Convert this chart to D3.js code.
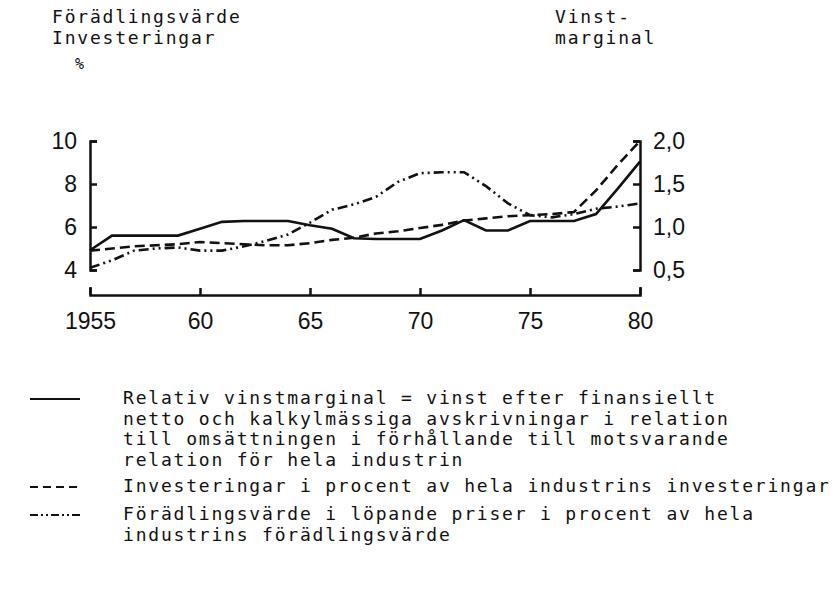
<!DOCTYPE html>
<html>
<head>
	<script src="https://d3js.org/d3.v7.min.js"></script>
	<meta charset="UTF-8">
	<style>
		body{ margin: 0; background-color: #ffffff; }
		.mono{ font-family: "DejaVu Sans Mono", "Liberation Mono", monospace; font-size: 18px; letter-spacing: 1.8px; fill: #111; }
		.axis text{ font-family: "Liberation Sans", "Roboto", sans-serif; font-size: 23px; fill: #111; }
		.axis path, .axis line{ stroke: #111; stroke-width: 2.5; }
	</style>
</head>
<body>
	<script type="text/javascript">
		var years = [1955,1956,1957,1958,1959,1960,1961,1962,1963,1964,1965,1966,1967,1968,1969,1970,1971,1972,1973,1974,1975,1976,1977,1978,1979,1980];
		// relativ vinstmarginal (höger axel)
		var vinstmarginal = [0.73,0.90,0.90,0.90,0.90,0.98,1.06,1.07,1.07,1.07,1.02,0.98,0.87,0.86,0.86,0.86,0.96,1.08,0.96,0.96,1.07,1.07,1.07,1.15,1.45,1.76];
		// investeringar i procent (vänster axel)
		var investeringar = [4.9,5.0,5.1,5.15,5.2,5.3,5.25,5.2,5.15,5.15,5.25,5.4,5.5,5.7,5.8,5.95,6.1,6.3,6.4,6.5,6.55,6.6,6.7,7.7,8.9,10.0];
		// förädlingsvärde i procent (vänster axel)
		var foradling = [4.1,4.45,4.9,5.0,5.05,4.9,4.9,5.1,5.35,5.65,6.2,6.8,7.05,7.4,8.1,8.5,8.55,8.55,7.9,7.1,6.55,6.45,6.6,6.85,6.95,7.1];

		var xTicks = [1955,1960,1965,1970,1975,1980];
		var xTickLabels = ["1955","60","65","70","75","80"];
		var leftTicks = [4,6,8,10];
		var rightTicks = [0.5,1.0,1.5,2.0];

		var headLeft = ["Förädlingsvärde","Investeringar"];
		var headRight = ["Vinst-","marginal"];
		var legendSolid = ["Relativ vinstmarginal = vinst efter finansiellt","netto och kalkylmässiga avskrivningar i relation","till omsättningen i förhållande till motsvarande","relation för hela industrin"];
		var legendDash = ["Investeringar i procent av hela industrins investeringar"];
		var legendDot = ["Förädlingsvärde i löpande priser i procent av hela","industrins förädlingsvärde"];

		var w = 840;
		var h = 589;

		var xScale = d3.scaleLinear().domain([1955, 1980]).range([90, 640]);
		var yLeft = d3.scaleLinear().domain([4, 10]).range([270, 141]);
		var yRight = d3.scaleLinear().domain([0.5, 2.0]).range([270, 141]);

		var svg = d3.select('body').append('svg').attr('width', w).attr('height', h);

		//axlar
		var xAxis = d3.axisBottom(xScale).tickValues(xTicks).tickSize(-7).tickSizeOuter(-8).tickPadding(18)
			.tickFormat(function(d, i){ return xTickLabels[i]; });
		svg.append("g").attr("class", "axis").attr("transform", "translate(0,295)").call(xAxis);

		var leftAxis = d3.axisLeft(yLeft).tickValues(leftTicks).tickSize(-7).tickSizeOuter(-7).tickPadding(13).tickFormat(d3.format("d"));
		svg.append("g").attr("class", "axis").attr("transform", "translate(90,0)").call(leftAxis);

		var rightAxis = d3.axisRight(yRight).tickValues(rightTicks).tickSize(-7).tickSizeOuter(-7).tickPadding(13)
			.tickFormat(function(d){ return d3.format(".1f")(d).replace(".", ","); });
		svg.append("g").attr("class", "axis").attr("transform", "translate(640,0)").call(rightAxis);
		svg.selectAll(".axis path").attr("fill", "none");

		//linjer
		var lineL = function(vals){ return d3.line().x(function(d, i){ return xScale(years[i]); }).y(function(d){ return yLeft(d); })(vals); };
		var lineR = function(vals){ return d3.line().x(function(d, i){ return xScale(years[i]); }).y(function(d){ return yRight(d); })(vals); };

		svg.append("path").attr("fill", "none").attr("stroke", "#111").attr("stroke-width", 2.6).attr("d", lineR(vinstmarginal));
		svg.append("path").attr("fill", "none").attr("stroke", "#111").attr("stroke-width", 2.6).attr("stroke-dasharray", "10,5").attr("d", lineL(investeringar));
		svg.append("path").attr("fill", "none").attr("stroke", "#111").attr("stroke-width", 2.6).attr("stroke-dasharray", "10,4,2,4,2,4").attr("d", lineL(foradling));

		//rubriker
		svg.selectAll(".hl").data(headLeft).enter().append("text").attr("class", "mono")
			.attr("x", 52).attr("y", function(d, i){ return 23 + i * 21; }).text(function(d){ return d; });
		svg.selectAll(".hr").data(headRight).enter().append("text").attr("class", "mono")
			.attr("x", 555).attr("y", function(d, i){ return 23 + i * 21; }).text(function(d){ return d; });
		svg.append("text").attr("class", "mono").attr("x", 75).attr("y", 69).style("font-size", "15px").style("letter-spacing", "0px").text("%");

		//förklaring
		function legendBlock(lines, y0, dash){
			svg.append("line").attr("x1", 30).attr("x2", 80).attr("y1", y0 + 1).attr("y2", y0 + 1)
				.attr("stroke", "#111").attr("stroke-width", 2.2).attr("stroke-dasharray", dash);
			svg.append("g").selectAll("text").data(lines).enter().append("text").attr("class", "mono")
				.attr("x", 123).attr("y", function(d, i){ return y0 + 6 + i * 20.5; }).text(function(d){ return d; });
		}
		legendBlock(legendSolid, 398, null);
		legendBlock(legendDash, 486, "8,5");
		legendBlock(legendDot, 514, "8,3,2,3,2,3");
	</script>
</body>
</html>
